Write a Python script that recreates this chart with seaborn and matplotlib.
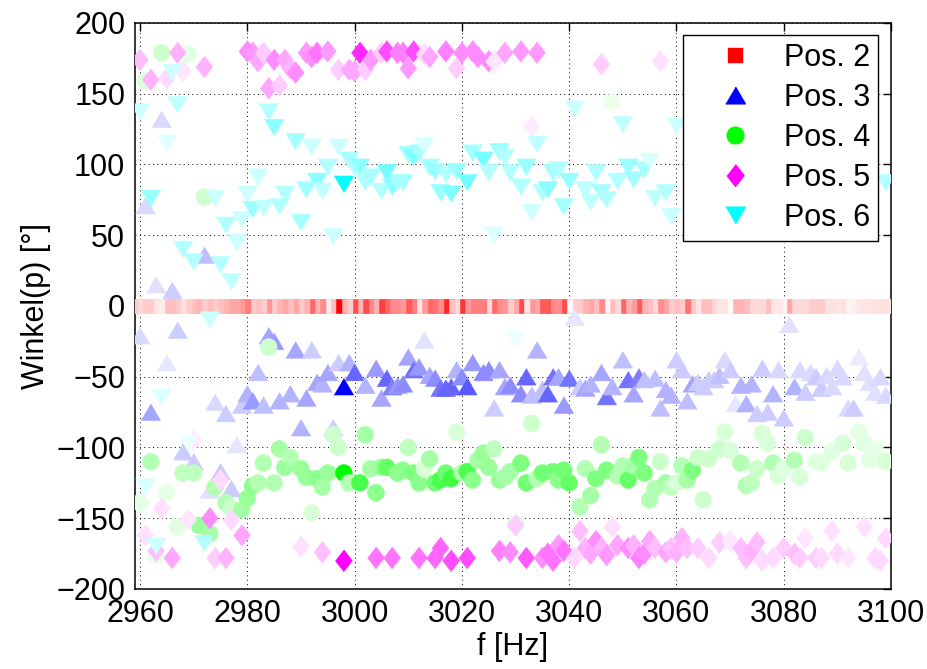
import numpy as np
import pandas as pd
import matplotlib
matplotlib.use("Agg")
import matplotlib.pyplot as plt
from matplotlib.colors import LinearSegmentedColormap
from matplotlib.lines import Line2D
import seaborn as sns

# ---------------- data ----------------
series_labels = ["Pos. 2", "Pos. 3", "Pos. 4", "Pos. 5", "Pos. 6"]

# Pos. 2: band at 0 deg, one square per Hz, amplitude sets intensity
pos2_f = list(range(2959, 3101))
pos2_deg = [0.0] * len(pos2_f)
pos2_amp = [
    0.15, 0.20, 0.15, 0.20, 0.20, 0.10, 0.08, 0.25, 0.25, 0.20,   # 2959-2968
    0.12, 0.20, 0.25, 0.30, 0.20, 0.25, 0.20, 0.25, 0.30, 0.35,   # 2969-2978
    0.35, 0.40, 0.50, 0.20, 0.25, 0.20, 0.40, 0.20, 0.30, 0.35,   # 2979-2988
    0.25, 0.35, 0.20, 0.30, 0.60, 0.30, 0.45, 0.08, 0.25, 1.00,   # 2989-2998
    0.30, 0.20, 0.70, 0.30, 0.70, 0.45, 0.30, 0.75, 0.60, 0.45,   # 2999-3008
    0.45, 0.40, 0.65, 0.50, 0.10, 0.40, 0.60, 0.55, 0.45, 0.85,   # 3009-3018
    0.25, 0.15, 0.80, 0.40, 0.50, 0.50, 0.50, 0.15, 0.60, 0.45,   # 3019-3028
    0.40, 0.20, 0.35, 0.70, 0.10, 0.40, 0.35, 0.65, 0.65, 0.45,   # 3029-3038
    0.45, 0.70, 0.03, 0.20, 0.20, 0.30, 0.35, 0.25, 0.45, 0.03,   # 3039-3048
    0.25, 0.15, 0.60, 0.30, 0.40, 0.65, 0.30, 0.25, 0.15, 0.45,   # 3049-3058
    0.35, 0.20, 0.25, 0.20, 0.55, 0.20, 0.10, 0.25, 0.25, 0.15,   # 3059-3068
    0.10, 0.10, 0.02, 0.30, 0.30, 0.25, 0.15, 0.15, 0.15, 0.25,   # 3069-3078
    0.10, 0.10, 0.05, 0.35, 0.15, 0.15, 0.15, 0.20, 0.20, 0.20,   # 3079-3088
    0.12, 0.12, 0.10, 0.12, 0.04, 0.06, 0.10, 0.10, 0.10, 0.12,   # 3089-3098
    0.12, 0.12,                                                   # 3099-3100
]

# Pos. 3 (blue, triangle up)
pos3_f = [2960, 2961, 2962, 2963, 2964, 2965, 2966, 2967, 2968, 2970, 2972, 2973, 2974, 2975,
          2976, 2977, 2978, 2979, 2980, 2981, 2982, 2983, 2984, 2985, 2986, 2988, 2989, 2990,
          2991, 2992, 2993, 2994, 2995, 2996, 2997, 2998, 2999, 3000, 3002, 3004, 3005, 3006,
          3007, 3008, 3009, 3010, 3011, 3012, 3013, 3014, 3015, 3016, 3017, 3018, 3019, 3020,
          3021, 3022, 3024, 3025, 3026, 3027, 3028, 3029, 3031, 3032, 3033, 3034, 3035, 3036,
          3037, 3038, 3039, 3040, 3041, 3042, 3043, 3044, 3046, 3047, 3048, 3050, 3051, 3052,
          3053, 3054, 3056, 3057, 3058, 3059, 3060, 3061, 3062, 3063, 3064, 3065, 3066, 3067,
          3068, 3069, 3070, 3071, 3072, 3073, 3074, 3075, 3076, 3077, 3078, 3079, 3080, 3081,
          3082, 3083, 3084, 3085, 3086, 3087, 3088, 3089, 3090, 3091, 3092, 3093, 3094, 3095,
          3096, 3097, 3098, 3099]
pos3_deg = [-21, 71, -75, 15, 132, -40, 11, -17, -103, -110, 36, -130, -68, -117,
            -76, -129, -98, -70, -62, -67, -47, -70, -21, -25, -67, -62, -31, -86,
            -65, -31, -54, -55, -47, -86, -40, -57, -40, -47, -56, -44, -65, -51,
            -57, -56, -55, -36, -45, -43, -24, -49, -51, -58, -58, -57, -45, -50,
            -57, -40, -47, -45, -72, -45, -57, -56, -62, -50, -63, -31, -59, -62,
            -50, -50, -70, -51, -8, -57, -58, -55, -47, -64, -57, -38, -52, -62,
            -50, -52, -51, -72, -59, -63, -38, -45, -67, -55, -54, -57, -52, -52,
            -49, -38, -45, -69, -56, -69, -55, -76, -44, -75, -62, -45, -79, -13,
            -57, -45, -61, -47, -50, -58, -49, -57, -44, -50, -72, -72, -36, -47,
            -54, -61, -50, -63]
pos3_amp = [0.15, 0.15, 0.35, 0.12, 0.15, 0.10, 0.20, 0.20, 0.20, 0.20, 0.25, 0.12, 0.15, 0.20,
            0.20, 0.20, 0.10, 0.20, 0.30, 0.40, 0.25, 0.25, 0.35, 0.40, 0.30, 0.30, 0.35, 0.30,
            0.35, 0.20, 0.35, 0.30, 0.35, 0.20, 0.20, 1.00, 0.30, 0.60, 0.30, 0.40, 0.35, 0.60,
            0.50, 0.40, 0.45, 0.35, 0.55, 0.40, 0.12, 0.35, 0.45, 0.55, 0.60, 0.60, 0.30, 0.45,
            0.65, 0.40, 0.45, 0.45, 0.20, 0.35, 0.35, 0.45, 0.45, 0.60, 0.25, 0.30, 0.25, 0.60,
            0.55, 0.35, 0.40, 0.55, 0.10, 0.20, 0.35, 0.30, 0.35, 0.55, 0.30, 0.25, 0.55, 0.35,
            0.50, 0.25, 0.25, 0.25, 0.30, 0.30, 0.20, 0.20, 0.25, 0.35, 0.20, 0.20, 0.20, 0.20,
            0.25, 0.15, 0.20, 0.10, 0.30, 0.30, 0.30, 0.20, 0.20, 0.20, 0.30, 0.15, 0.20, 0.12,
            0.30, 0.15, 0.20, 0.15, 0.20, 0.20, 0.15, 0.15, 0.15, 0.15, 0.15, 0.20, 0.08, 0.12,
            0.12, 0.12, 0.15, 0.15]

# Pos. 4 (green, circle)
pos4_f = [2960, 2961, 2962, 2963, 2964, 2965, 2967, 2968, 2969, 2970, 2971, 2972, 2973, 2974,
          2976, 2977, 2979, 2980, 2981, 2982, 2983, 2984, 2985, 2986, 2987, 2988, 2990, 2991,
          2992, 2993, 2994, 2995, 2996, 2997, 2998, 2999, 3001, 3002, 3003, 3004, 3005, 3006,
          3008, 3009, 3010, 3011, 3012, 3013, 3014, 3015, 3016, 3017, 3018, 3019, 3020, 3021,
          3022, 3023, 3024, 3025, 3026, 3027, 3028, 3029, 3030, 3031, 3032, 3033, 3034, 3035,
          3037, 3038, 3039, 3040, 3042, 3043, 3044, 3045, 3046, 3047, 3048, 3049, 3050, 3051,
          3052, 3053, 3054, 3055, 3056, 3057, 3058, 3059, 3060, 3061, 3062, 3063, 3064, 3065,
          3066, 3068, 3069, 3070, 3072, 3073, 3074, 3075, 3076, 3077, 3078, 3079, 3080, 3082,
          3083, 3084, 3086, 3087, 3089, 3091, 3092, 3094, 3095, 3096, 3097, 3099]
pos4_deg = [-139, 159, -110, -176, 179, -132, -156, -118, 178, -118, -155, 77, -161, -128,
            -139, -143, -144, -136, -127, -125, -111, -29, -125, -101, -114, -107, -115, -121,
            -146, -122, -128, -118, -91, -100, -118, -125, -125, -91, -115, -132, -114, -114,
            -118, -116, -100, -118, -125, -115, -108, -125, -123, -118, -122, -89, -118, -117,
            -123, -109, -104, -114, -101, -123, -121, -117, -154, -111, -125, -83, -122, -118,
            -117, -123, -116, -125, -142, -115, -134, -122, -98, -116, 144, -120, -113, -123,
            -113, -107, -118, -137, -129, -110, -125, -128, -125, -113, -123, -116, -107, -137,
            -108, -101, -89, -102, -111, -127, -125, -115, -90, -97, -111, -120, -115, -109,
            -121, -93, -110, -111, -103, -97, -111, -89, -97, -109, -101, -110]
pos4_amp = [0.10, 0.15, 0.30, 0.10, 0.20, 0.10, 0.12, 0.25, 0.12, 0.25, 0.40, 0.20, 0.35, 0.30,
            0.30, 0.20, 0.35, 0.40, 0.45, 0.30, 0.30, 0.20, 0.30, 0.35, 0.40, 0.30, 0.40, 0.40,
            0.15, 0.45, 0.35, 0.40, 0.20, 0.20, 1.00, 0.30, 0.70, 0.35, 0.35, 0.45, 0.40, 0.60,
            0.45, 0.45, 0.25, 0.50, 0.45, 0.15, 0.35, 0.55, 0.70, 0.55, 0.75, 0.15, 0.30, 0.70,
            0.45, 0.35, 0.40, 0.40, 0.25, 0.40, 0.35, 0.35, 0.15, 0.50, 0.55, 0.20, 0.30, 0.55,
            0.55, 0.45, 0.55, 0.60, 0.30, 0.30, 0.35, 0.50, 0.30, 0.50, 0.08, 0.30, 0.30, 0.60,
            0.35, 0.50, 0.50, 0.30, 0.30, 0.20, 0.35, 0.25, 0.15, 0.30, 0.35, 0.50, 0.20, 0.20,
            0.20, 0.20, 0.15, 0.15, 0.30, 0.30, 0.25, 0.20, 0.15, 0.15, 0.30, 0.15, 0.12, 0.30,
            0.15, 0.20, 0.12, 0.12, 0.12, 0.15, 0.15, 0.10, 0.12, 0.12, 0.10, 0.15]

# Pos. 5 (magenta, diamond)
pos5_f = [2960, 2962, 2965, 2967, 2968, 2972, 2980, 2981, 2982, 2983, 2984, 2985, 2986, 2987,
          2988, 2989, 2991, 2992, 2993, 2995, 2997, 2999, 3000, 3001, 3002, 3003, 3005, 3006,
          3008, 3009, 3010, 3011, 3013, 3014, 3017, 3019, 3020, 3022, 3023, 3025, 3026, 3028,
          3031, 3033, 3034, 3046, 3057,
          2961, 2963, 2964, 2966, 2969, 2970, 2973, 2974, 2975, 2976, 2977, 2979, 2990, 2994,
          2998, 3004, 3007, 3012, 3015, 3016, 3018, 3021, 3027, 3029, 3030, 3032, 3035, 3036,
          3037, 3038, 3039, 3041, 3042, 3043, 3044, 3045, 3046, 3047, 3048, 3049, 3051, 3052,
          3053, 3054, 3055, 3056, 3058, 3059, 3060, 3061, 3062, 3064, 3066, 3068, 3070, 3072,
          3073, 3074, 3075, 3076, 3078, 3080, 3082, 3083, 3084, 3086, 3087, 3089, 3090, 3092,
          3095, 3097, 3098, 3099]
pos5_deg = [174, 160, 161, 179, 166, 169, 180, 179, 173, 179, 154, 174, 156, 174,
            168, 165, 179, 176, 179, 180, 167, 167, 166, 179, 167, 174, 179, 180,
            179, 179, 168, 180, 178, 176, 180, 168, 179, 180, 176, 173, 173, 179,
            180, 127, 179, 171, 173,
            -162, -173, -143, -178, -151, -95, -150, -178, -123, -178, -151, -162, -170, -174,
            -180, -178, -178, -178, -178, -171, -180, -178, -173, -174, -155, -178, -178, -175,
            -180, -169, -173, -178, -159, -171, -175, -166, -171, -176, -156, -169, -171, -169,
            -178, -175, -166, -171, -174, -171, -174, -164, -171, -171, -178, -167, -166, -171,
            -178, -173, -167, -180, -178, -171, -175, -178, -164, -178, -178, -159, -175, -178,
            -156, -178, -180, -164]
pos5_amp = [0.25, 0.30, 0.15, 0.30, 0.10, 0.30, 0.45, 0.40, 0.35, 0.20, 0.35, 0.45, 0.20, 0.35,
            0.30, 0.45, 0.40, 0.45, 0.55, 0.40, 0.20, 0.35, 0.35, 0.85, 0.20, 0.40, 0.20, 0.70,
            0.50, 0.50, 0.40, 0.70, 0.15, 0.35, 0.50, 0.20, 0.45, 0.45, 0.45, 0.45, 0.10, 0.35,
            0.40, 0.08, 0.40, 0.20, 0.12,
            0.12, 0.25, 0.12, 0.35, 0.10, 0.08, 0.45, 0.20, 0.15, 0.30, 0.15, 0.35, 0.12, 0.25,
            1.00, 0.55, 0.55, 0.55, 0.60, 0.60, 0.70, 0.70, 0.50, 0.45, 0.20, 0.65, 0.45, 0.55,
            0.55, 0.40, 0.55, 0.15, 0.25, 0.30, 0.35, 0.45, 0.30, 0.40, 0.12, 0.35, 0.45, 0.30,
            0.50, 0.45, 0.35, 0.25, 0.35, 0.25, 0.30, 0.30, 0.25, 0.20, 0.15, 0.20, 0.10, 0.25,
            0.25, 0.30, 0.25, 0.15, 0.15, 0.20, 0.25, 0.20, 0.10, 0.20, 0.15, 0.12, 0.15, 0.10,
            0.12, 0.15, 0.15, 0.15]

# Pos. 6 (cyan, triangle down)
pos6_f = [2960, 2961, 2962, 2963, 2964, 2965, 2966, 2967, 2968, 2969, 2970, 2972, 2973, 2974,
          2975, 2976, 2977, 2978, 2979, 2980, 2981, 2982, 2983, 2984, 2985, 2986, 2987, 2989,
          2990, 2991, 2992, 2993, 2994, 2995, 2996, 2997, 2998, 2999, 3000, 3001, 3002, 3003,
          3005, 3006, 3007, 3008, 3009, 3010, 3011, 3012, 3013, 3014, 3015, 3016, 3017, 3018,
          3019, 3021, 3022, 3024, 3025, 3026, 3027, 3028, 3029, 3030, 3031, 3032, 3033, 3034,
          3035, 3036, 3037, 3038, 3039, 3040, 3041, 3043, 3044, 3045, 3046, 3047, 3049, 3050,
          3051, 3052, 3054, 3055, 3056, 3058, 3059, 3060, 3080, 3099]
pos6_deg = [137, -128, 76, -170, -65, 115, 165, 142, 40, -97, 31, -168, -10, 76,
            29, 57, 17, 45, 61, 79, 68, 91, 69, 137, 126, 70, 79, 116,
            59, 82, 112, 88, 81, 98, 49, 112, 86, 103, 98, 98, 87, 91,
            81, 94, 84, 87, 87, 107, 105, 108, 113, 98, 95, 80, 93, 79,
            95, 87, 108, 103, 94, 50, 109, 105, 94, -24, 84, 98, 66, 114,
            80, 82, 94, 96, 70, 88, 139, 82, 73, 94, 80, 75, 88, 128,
            98, 89, 96, 102, 76, 80, 63, 127, 49, 87]
pos6_amp = [0.20, 0.15, 0.40, 0.20, 0.15, 0.12, 0.20, 0.25, 0.30, 0.08, 0.30, 0.30, 0.20, 0.20,
            0.30, 0.30, 0.25, 0.20, 0.20, 0.20, 0.40, 0.20, 0.25, 0.30, 0.45, 0.30, 0.30, 0.35,
            0.35, 0.35, 0.20, 0.45, 0.25, 0.30, 0.20, 0.20, 1.00, 0.35, 0.30, 0.45, 0.30, 0.35,
            0.30, 0.55, 0.45, 0.35, 0.35, 0.35, 0.50, 0.35, 0.15, 0.35, 0.40, 0.40, 0.30, 0.50,
            0.40, 0.55, 0.35, 0.55, 0.30, 0.15, 0.40, 0.30, 0.30, 0.08, 0.30, 0.40, 0.20, 0.25,
            0.30, 0.45, 0.35, 0.30, 0.35, 0.40, 0.20, 0.25, 0.25, 0.30, 0.35, 0.30, 0.30, 0.25,
            0.40, 0.35, 0.35, 0.15, 0.25, 0.30, 0.20, 0.20, 0.15, 0.30]

x_ticks = [2960, 2980, 3000, 3020, 3040, 3060, 3080, 3100]
y_ticks = [-200, -150, -100, -50, 0, 50, 100, 150, 200]

# ---------------- style ----------------
sns.set_style("white")
plt.rcParams["font.family"] = ["Liberation Sans", "DejaVu Sans"]
plt.rcParams["axes.unicode_minus"] = True
for key in ["text.color", "axes.labelcolor", "xtick.color", "ytick.color", "axes.edgecolor"]:
    plt.rcParams[key] = "black"

FS = 22
TRI_UP = [(-1.0, -0.85), (1.0, -0.85), (0.0, 0.85)]
TRI_DN = [(-1.0, 0.85), (1.0, 0.85), (0.0, -0.85)]
DIAM = [(0.0, 1.0), (0.78, 0.0), (0.0, -1.0), (-0.78, 0.0)]

styles = [
    ("#ff0000", "s", 112),
    ("#0000ff", TRI_UP, 200),
    ("#00ff00", "o", 145),
    ("#ff00ff", DIAM, 245),
    ("#00ffff", TRI_DN, 200),
]
series = [
    (pos2_f, pos2_deg, pos2_amp),
    (pos3_f, pos3_deg, pos3_amp),
    (pos4_f, pos4_deg, pos4_amp),
    (pos5_f, pos5_deg, pos5_amp),
    (pos6_f, pos6_deg, pos6_amp),
]

fig = plt.figure(figsize=(9.28, 6.69), dpi=100)
ax = fig.add_axes([135 / 928, 1 - 589 / 669, (891 - 135) / 928, (589 - 23) / 669])

for (f, d, a), (col, mk, sz) in zip(series, styles):
    df = pd.DataFrame({"f": f, "deg": d, "amp": a})
    cmap = LinearSegmentedColormap.from_list("fade", ["#ffffff", col])
    sns.scatterplot(data=df, x="f", y="deg", hue="amp", palette=cmap, hue_norm=(0, 1),
                    marker=mk, s=sz, edgecolor="face", linewidth=0.4,
                    legend=False, ax=ax, zorder=3)

ax.set_xlim(2959.07, 3100)
ax.set_ylim(-200, 200)
ax.set_xticks(x_ticks)
ax.set_yticks(y_ticks)
ax.tick_params(direction="in", top=True, right=True, length=6, width=1.0,
               labelsize=FS, pad=7, colors="black")
ax.grid(True, color="black", linestyle=(0, (1, 3.5)), linewidth=0.7)
ax.set_axisbelow(True)
for sp in ax.spines.values():
    sp.set_color("black")
    sp.set_linewidth(1.1)

ax.set_xlabel("f [Hz]", fontsize=FS, labelpad=2, color="black")
ax.set_ylabel("Winkel(p) [°]", fontsize=FS, labelpad=4, color="black")

handles = []
for (col, mk, sz), lab in zip(styles, series_labels):
    handles.append(Line2D([], [], linestyle="none", marker=mk, markersize=np.sqrt(sz),
                          markerfacecolor=col, markeredgecolor=col, label=lab))
leg = ax.legend(handles=handles, loc="upper right", bbox_to_anchor=(0.9828, 0.9788),
                borderaxespad=0, fontsize=FS, frameon=True, fancybox=False,
                framealpha=1, edgecolor="black", labelspacing=0.33, handlelength=2.9,
                handletextpad=0.15, borderpad=0.25)
leg.get_frame().set_linewidth(1.0)
leg.set_zorder(10)
for t in leg.get_texts():
    t.set_color("black")

fig.savefig("out.png", dpi=100)
